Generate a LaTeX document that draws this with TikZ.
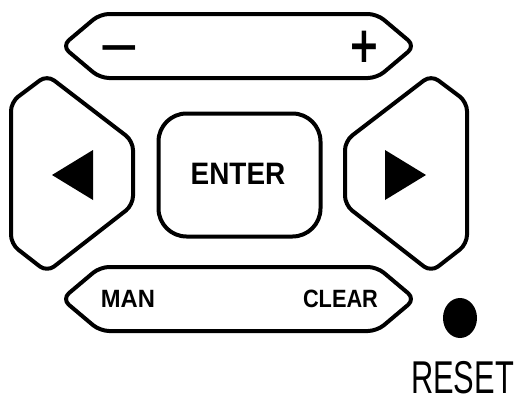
\documentclass[tikz,border=0pt]{standalone}
\usepackage{fontspec}
\setmainfont{Liberation Sans}
\newfontfamily\symfont{DejaVu Sans}
\begin{document}
\begin{tikzpicture}[x=1pt,y=-1pt,
  keyline/.style={draw=black,line width=4pt,rounded corners=9pt,line join=round},
  keylabel/.style={inner sep=0pt,font=\fontsize{31}{31}\bfseries\selectfont},
  smalllabel/.style={inner sep=0pt,font=\fontsize{25}{25}\bfseries\selectfont},
  signlabel/.style={inner sep=0pt,font=\symfont\fontsize{40}{40}\bfseries\selectfont},
  arrowtip/.style={fill=black,draw=none}]
\useasboundingbox (0,0) rectangle (525,402);
% top -/+ key
\draw[keyline] (62,46) -- (100,14) -- (377,14) -- (415,46) -- (377,78) -- (100,78) -- cycle;
\node[signlabel] (minus) at (119.5,47.5) {\vphantom{+}\scalebox{1.3}[1]{−}};
\node[signlabel] (plus) at (364,47) {\scalebox{0.95}[1.25]{+}};
% left key
\draw[keyline] (11,102) -- (47,75) -- (133,141) -- (133,205) -- (47,272) -- (11,244) -- cycle;
\fill[arrowtip] (52,175) -- (93,150) -- (93,200) -- cycle;
% right key
\draw[keyline] (467,102) -- (431,75) -- (345,141) -- (345,205) -- (431,272) -- (467,244) -- cycle;
\fill[arrowtip] (426,175) -- (385,150) -- (385,200) -- cycle;
% enter key
\draw[draw=black,line width=4pt,rounded corners=28pt] (158.5,113.5) rectangle (320.5,236.5);
\node[keylabel] (enter) at (238,174) {\scalebox{0.9}[1]{ENTER}};
% bottom MAN/CLEAR key
\draw[keyline] (62,299) -- (100,267) -- (377,267) -- (415,299) -- (377,331) -- (100,331) -- cycle;
\node[smalllabel] (man) at (128,299) {\scalebox{0.95}[1]{MAN}};
\node[smalllabel] (clear) at (340.5,299) {\scalebox{0.87}[1]{CLEAR}};
% reset
\fill[black] (460,318) ellipse [x radius=17, y radius=20];
\node[inner sep=0pt,font=\fontsize{46}{46}\selectfont] (reset) at (462.5,378) {\scalebox{0.67}[1]{RESET}};
\end{tikzpicture}
\end{document}
